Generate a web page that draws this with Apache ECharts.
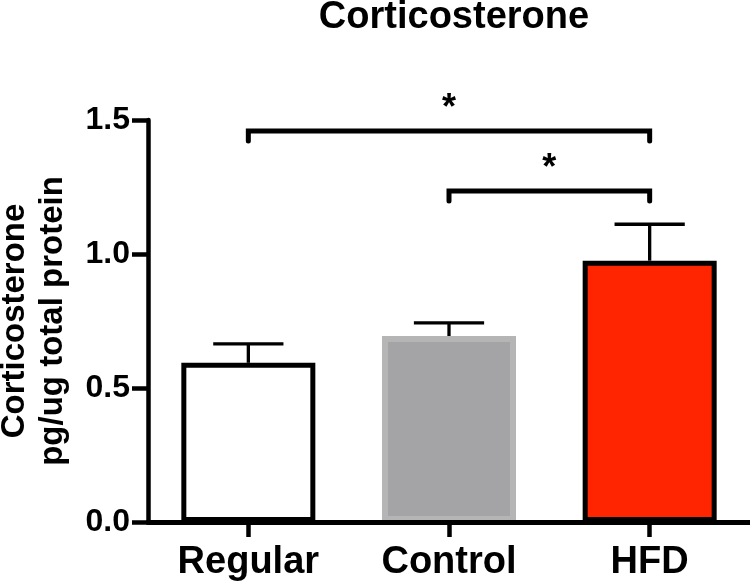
<!DOCTYPE html>
<html><head><meta charset="utf-8">
<script src="https://cdn.jsdelivr.net/npm/echarts@6/dist/echarts.min.js"></script>
<style>html,body{margin:0;padding:0;background:#fff}#c{width:750px;height:582px}</style>
</head><body><div id="c"></div>
<script>
const categories = ['Regular', 'Control', 'HFD'];
const means = [0.594, 0.694, 0.975];
const upperErrors = [0.071, 0.049, 0.136];
const barFills = ['#ffffff', '#a4a3a6', '#ff2500'];
const barBorders = ['#000000', '#b5b5b5', '#000000'];
const yTickMin = 0, yTickMax = 1.5, yTickStep = 0.5;
// significance brackets: [fromIndex, toIndex, level]
const brackets = [[0, 2, 1.459], [1, 2, 1.235]];
const sigMarks = ['*', '*'];

const FONT = "'Liberation Sans', Arial, Helvetica, sans-serif";
const chart = echarts.init(document.getElementById('c'), null, {renderer: 'canvas'});

const option = {
  animation: false,
  backgroundColor: '#ffffff',
  title: {
    text: 'Corticosterone',
    left: 449, top: -6, textAlign: 'center',
    textStyle: {fontFamily: FONT, fontWeight: 'bold', fontSize: 38, color: '#000'}
  },
  grid: {left: 148, right: 0, top: 120, bottom: 60, containLabel: false, outerBoundsMode: 'none'},
  xAxis: {
    type: 'category', data: categories, z: 10,
    axisLine: {show: true, lineStyle: {color: '#000', width: 5}},
    axisTick: {show: true, alignWithLabel: true, length: 15, lineStyle: {color: '#000', width: 4.5}},
    axisLabel: {margin: 22, fontFamily: FONT, fontWeight: 'bold', fontSize: 38, color: '#000'},
    splitLine: {show: false}
  },
  yAxis: {
    type: 'value', min: yTickMin, max: yTickMax, interval: yTickStep, z: 10,
    name: 'Corticosterone\npg/ug total protein',
    nameLocation: 'middle', nameGap: 76, nameRotate: 90,
    nameTextStyle: {fontFamily: FONT, fontWeight: 'bold', fontSize: 33, lineHeight: 38, color: '#000'},
    axisLine: {show: true, lineStyle: {color: '#000', width: 4.5}},
    axisTick: {show: true, length: 16, lineStyle: {color: '#000', width: 4.5}},
    axisLabel: {margin: 18, fontFamily: FONT, fontWeight: 'bold', fontSize: 32, color: '#000',
      formatter: v => v.toFixed(1)},
    splitLine: {show: false}
  },
  series: [
    {
      type: 'bar', barWidth: 134, z: 2,
      data: means.map((v, i) => ({
        value: v,
        itemStyle: {color: barFills[i], borderColor: barBorders[i], borderWidth: i === 1 ? 6 : 5}
      }))
    },
    {
      type: 'custom', z: 3,
      data: means.map((v, i) => [i, v, v + upperErrors[i]]),
      encode: {x: 0, y: [1, 2]},
      renderItem: function (params, api) {
        const p0 = api.coord([api.value(0), api.value(1)]);
        const p1 = api.coord([api.value(0), api.value(2)]);
        const half = api.size([1, 0])[0] * 0.175;
        const style = {stroke: '#000', lineWidth: 3.3, fill: null};
        return {type: 'group', children: [
          {type: 'line', shape: {x1: p0[0], y1: p0[1], x2: p1[0], y2: p1[1]}, style},
          {type: 'line', shape: {x1: p1[0] - half, y1: p1[1], x2: p1[0] + half, y2: p1[1]}, style}
        ]};
      }
    },
    {
      type: 'custom', z: 4, clip: false,
      data: brackets.map((b, i) => [b[0], b[1], b[2]]),
      encode: {x: [0, 1], y: 2},
      renderItem: function (params, api) {
        const a = api.coord([api.value(0), api.value(2)]);
        const b = api.coord([api.value(1), api.value(2)]);
        const drop = 10;
        return {type: 'group', children: [
          {type: 'polyline', shape: {points: [[a[0], a[1] + drop], [a[0], a[1]], [b[0], b[1]], [b[0], b[1] + drop]]},
           style: {stroke: '#000', lineWidth: 5, fill: null, lineCap: 'round', lineJoin: 'miter'}},
          {type: 'text', x: (a[0] + b[0]) / 2, y: a[1] - 22,
           style: {text: sigMarks[params.dataIndex], fontFamily: FONT, fontWeight: 'bold', fontSize: 36,
                   fill: '#000', textAlign: 'center', textVerticalAlign: 'middle'}}
        ]};
      }
    }
  ]
};
chart.setOption(option);
</script>
</body></html>
